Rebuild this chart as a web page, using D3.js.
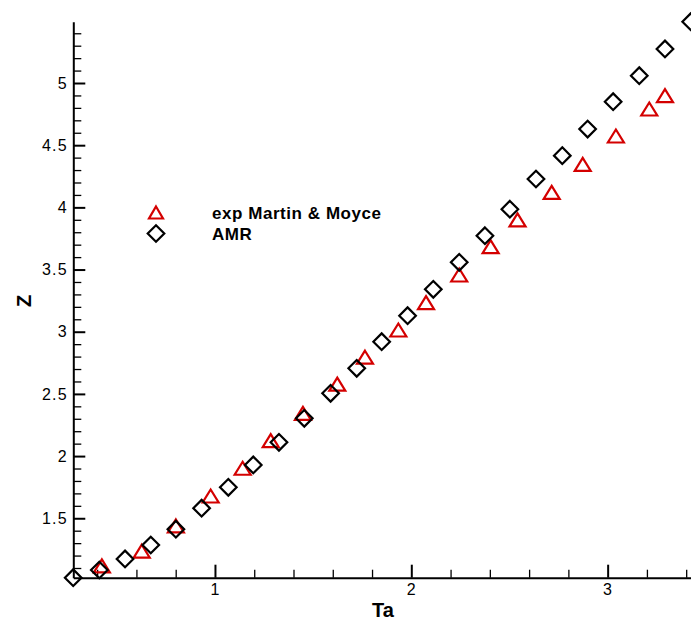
<!DOCTYPE html>
<html>
<head>
<meta charset="utf-8">
<script src="https://cdn.jsdelivr.net/npm/d3@7"></script>
<style>
  html, body { margin: 0; padding: 0; background: #fff; }
  svg { display: block; }
  text { font-family: "Liberation Sans", Arial, Helvetica, sans-serif; }
</style>
</head>
<body>
<svg id="chart" width="691" height="622"></svg>
<script>
// ---- data ----
const expTa = [0.424, 0.627, 0.801, 0.978, 1.141, 1.284, 1.448, 1.623, 1.764, 1.934,
               2.075, 2.244, 2.404, 2.541, 2.715, 2.873, 3.042, 3.212, 3.292];
const expZ  = [1.117, 1.235, 1.438, 1.679, 1.902, 2.124, 2.344, 2.578, 2.795, 3.014,
               3.234, 3.456, 3.684, 3.899, 4.121, 4.346, 4.574, 4.791, 4.898];

const amrTa = [0.278, 0.411, 0.542, 0.673, 0.801, 0.932, 1.068, 1.195, 1.326, 1.455,
               1.589, 1.722, 1.849, 1.981, 2.112, 2.244, 2.375, 2.502, 2.635, 2.769,
               2.898, 3.028, 3.161, 3.292, 3.423];
const amrZ  = [1.022, 1.084, 1.173, 1.285, 1.412, 1.581, 1.749, 1.929, 2.111, 2.304,
               2.505, 2.706, 2.920, 3.129, 3.341, 3.558, 3.772, 3.985, 4.228, 4.416,
               4.630, 4.850, 5.059, 5.274, 5.493];

const xMajorTicks = [1, 2, 3];
const yMajorTicks = [1.5, 2, 2.5, 3, 3.5, 4, 4.5, 5];
const seriesNames = ["exp Martin & Moyce", "AMR"];
const xTitle = "Ta";
const yTitle = "Z";

// ---- layout ----
const svg = d3.select("#chart");
const x = d3.scaleLinear().domain([0.2785, 3.45]).range([73.3, 696.0]);
const y = d3.scaleLinear().domain([1.022, 5.493]).range([577.7, 21.7]);
const red = "#d40000";

const xMinor = d3.range(0.4, 3.45, 0.2).filter(v => Math.abs(v - Math.round(v)) > 1e-6);
const yMinor = d3.range(1.1, 5.45, 0.1).filter(v => Math.abs(v * 2 - Math.round(v * 2)) > 1e-6);

// minor ticks
svg.append("g").attr("transform", `translate(0,${y.range()[0]})`)
  .call(d3.axisBottom(x).tickValues(xMinor).tickSizeInner(-8).tickSizeOuter(0).tickFormat(""))
  .call(g => g.select(".domain").remove())
  .call(g => g.selectAll("line").attr("stroke", "#000").attr("stroke-width", 1.3));
svg.append("g").attr("transform", `translate(${x.range()[0]},0)`)
  .call(d3.axisLeft(y).tickValues(yMinor).tickSizeInner(-8).tickSizeOuter(0).tickFormat(""))
  .call(g => g.select(".domain").remove())
  .call(g => g.selectAll("line").attr("stroke", "#000").attr("stroke-width", 1.3));

// major axes
const gx = svg.append("g").attr("transform", `translate(0,${y.range()[0]})`)
  .call(d3.axisBottom(x).tickValues(xMajorTicks).tickSizeInner(-13).tickSizeOuter(0)
        .tickPadding(6).tickFormat(d3.format("d")));
const gy = svg.append("g").attr("transform", `translate(${x.range()[0]},0)`)
  .call(d3.axisLeft(y).tickValues(yMajorTicks).tickSizeInner(-12).tickSizeOuter(0)
        .tickPadding(5.5).tickFormat(d => String(d)));
[gx, gy].forEach(g => {
  g.select(".domain").attr("stroke", "#000").attr("stroke-width", 2);
  g.selectAll(".tick line").attr("stroke", "#000").attr("stroke-width", 2);
  g.selectAll(".tick text").attr("fill", "#000").attr("font-size", 16)
    .attr("letter-spacing", "1.2px")
    .attr("font-family", '"Liberation Sans", Arial, sans-serif');
});

// titles
svg.append("text").attr("x", 383).attr("y", 617).attr("text-anchor", "middle")
  .attr("font-size", 20).attr("font-weight", "bold").text(xTitle);
svg.append("text").attr("transform", "translate(31,301) rotate(-90)").attr("text-anchor", "middle")
  .attr("font-size", 20).attr("font-weight", "bold").text(yTitle);

// markers
function triPath(cx, cy, w, h) {
  return `M${cx},${cy - h / 2}L${cx + w / 2},${cy + h / 2}L${cx - w / 2},${cy + h / 2}Z`;
}
function diaPath(cx, cy, r) {
  return `M${cx},${cy - r}L${cx + r},${cy}L${cx},${cy + r}L${cx - r},${cy}Z`;
}

const expData = expTa.map((t, i) => ({ t, z: expZ[i] }));
const amrData = amrTa.map((t, i) => ({ t, z: amrZ[i] }));

svg.append("g").selectAll("path").data(expData).join("path")
  .attr("d", d => triPath(x(d.t), y(d.z), 16, 13))
  .attr("fill", "none").attr("stroke", red).attr("stroke-width", 2.2)
  .attr("stroke-linejoin", "miter");
svg.append("g").selectAll("path").data(amrData).join("path")
  .attr("d", d => diaPath(x(d.t), y(d.z), 8.3))
  .attr("fill", "none").attr("stroke", "#000").attr("stroke-width", 2.2);

// legend
const lg = svg.append("g");
lg.append("path").attr("d", triPath(156, 212.5, 14, 12)).attr("fill", "none")
  .attr("stroke", red).attr("stroke-width", 2.2);
lg.append("path").attr("d", diaPath(156, 233.5, 8.3)).attr("fill", "none")
  .attr("stroke", "#000").attr("stroke-width", 2.2);
lg.append("text").attr("x", 212).attr("y", 219).attr("font-size", 17).attr("font-weight", "bold")
  .attr("letter-spacing", "0.55px").text(seriesNames[0]);
lg.append("text").attr("x", 212).attr("y", 240).attr("font-size", 17).attr("font-weight", "bold")
  .attr("letter-spacing", "0.55px").text(seriesNames[1]);
</script>
</body>
</html>
